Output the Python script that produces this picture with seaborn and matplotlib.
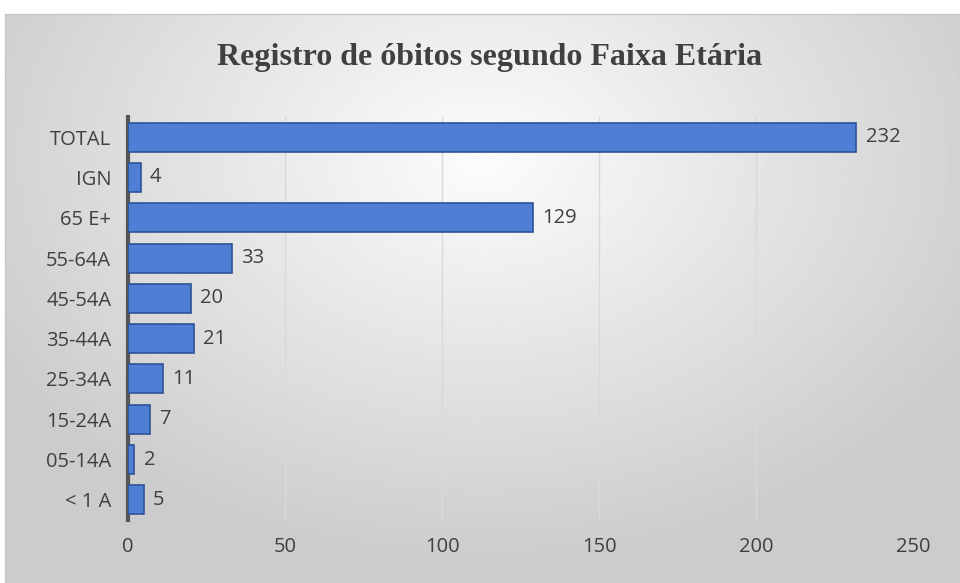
import numpy as np
import pandas as pd
import matplotlib
matplotlib.use("Agg")
import matplotlib.pyplot as plt
import seaborn as sns

# -----------------------------
# Data
# -----------------------------
faixas = ["TOTAL", "IGN", "65 E+", "55-64A", "45-54A", "35-44A",
          "25-34A", "15-24A", "05-14A", "< 1 A"]
obitos = [232, 4, 129, 33, 20, 21, 11, 7, 2, 5]
x_ticks = [0, 50, 100, 150, 200, 250]

df = pd.DataFrame({"faixa": faixas, "obitos": obitos})

sns.set_theme(style="white")
plt.rcParams["font.family"] = ["Open Sans", "DejaVu Sans"]

fig = plt.figure(figsize=(9.6, 5.83), dpi=100)
fig.patch.set_facecolor("white")

# -----------------------------
# Gradient background frame
# -----------------------------
bg = fig.add_axes([5 / 960, 0, 955 / 960, 1 - 14 / 583])
gx, gy = np.meshgrid(np.linspace(-1, 1, 400), np.linspace(-1, 1, 250))
shade = 0.80 + 0.19 * (1 - np.clip(np.sqrt((gx * 0.85) ** 2 + (gy * 0.7 + 0.35) ** 2), 0, 1))
bg.imshow(shade, cmap="gray", vmin=0, vmax=1, aspect="auto", extent=[0, 1, 0, 1])
bg.set_xticks([])
bg.set_yticks([])
for s in bg.spines.values():
    s.set_color("#c8c8c8")
    s.set_linewidth(1)

fig.text(490 / 960, 1 - 58 / 583, "Registro de óbitos segundo Faixa Etária",
         ha="center", va="center", fontsize=23, fontweight="bold",
         family="Liberation Serif", color="#404040")

# -----------------------------
# Bars
# -----------------------------
ax = fig.add_axes([128 / 960, 1 - 520 / 583, 785 / 960, 403 / 583])
ax.patch.set_alpha(0)

sns.barplot(data=df, x="obitos", y="faixa", orient="h", color="#4f7fd4",
            width=0.72, edgecolor="#2d5397", linewidth=1.2, saturation=1,
            ax=ax, zorder=3)

for p, v in zip(ax.patches, obitos):
    ax.text(p.get_width() + 3, p.get_y() + p.get_height() / 2, str(v),
            va="center", ha="left", fontsize=14.5, color="#404040")

ax.set_xlim(0, 250)
ax.set_xticks(x_ticks)
ax.set_xticklabels([str(t) for t in x_ticks], fontsize=14.5, color="#404040")
ax.tick_params(axis="y", labelsize=14.5, labelcolor="#404040", length=0, pad=12)
ax.tick_params(axis="x", length=0, pad=12)
ax.set_xlabel("")
ax.set_ylabel("")
ax.grid(axis="x", color="#d9d9d9", linewidth=1, zorder=0)

for s in ["top", "right", "bottom"]:
    ax.spines[s].set_visible(False)
ax.spines["left"].set_color("#555555")
ax.spines["left"].set_linewidth(3)

plt.savefig("out.png", dpi=100)
plt.close()
